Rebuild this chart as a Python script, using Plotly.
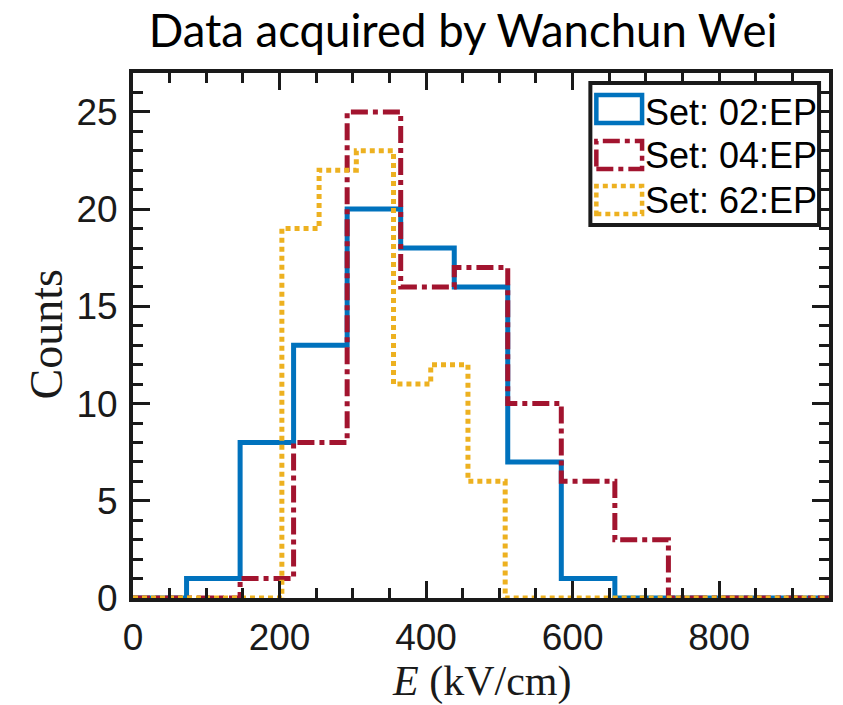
import plotly.graph_objects as go

# ---- data ----
edges_main = [0, 73.1, 146.2, 219.2, 292.3, 365.4, 438.5, 511.5, 584.6, 657.7, 730.8, 803.8, 876.9, 950]
counts_02 = [0, 1, 8, 13, 20, 18, 16, 7, 1, 0, 0, 0, 0]
counts_04 = [0, 0, 1, 8, 25, 16, 17, 10, 6, 3, 0, 0, 0]
edges_62 = [0, 50.8, 101.6, 152.4, 203.2, 254.0, 304.8, 355.6, 406.4, 457.2, 508.0,
            558.8, 609.6, 660.4, 711.2, 762.0, 812.8, 863.6, 914.4, 950]
counts_62 = [0, 0, 0, 0, 19, 22, 23, 11, 12, 6, 0, 0, 0, 0, 0, 0, 0, 0, 0]
labels = ["Set: 02:EP", "Set: 04:EP", "Set: 62:EP"]
x_ticks = [0, 200, 400, 600, 800]
y_ticks = [0, 5, 10, 15, 20, 25]

colors = ["#0072BD", "#A2142F", "#EDB120"]
dashes = ["solid", "17px,5px,5px,5px", "5px,4px"]


def stairs(edges, counts):
    return list(edges), list(counts) + [counts[-1]]


series = [(edges_main, counts_02), (edges_main, counts_04), (edges_62, counts_62)]

fig = go.Figure()
for (e, c), col, d, name in zip(series, colors, dashes, labels):
    xs, ys = stairs(e, c)
    fig.add_trace(go.Scatter(x=xs, y=ys, mode="lines", line_shape="hv",
                             line=dict(color=col, width=5, dash=d),
                             name=name, showlegend=False))

axis_common = dict(showline=True, linewidth=4, linecolor="#1a1a1a", mirror="allticks",
                   ticks="inside", tickwidth=3, tickcolor="#1a1a1a", ticklen=17,
                   showgrid=False, zeroline=False,
                   tickfont=dict(family="Liberation Sans, Arial", size=37, color="#1a1a1a"))

fig.update_xaxes(range=[0, 950], tickvals=x_ticks, ticklabelstandoff=4,
                 minor=dict(ticks="inside", ticklen=10, tickwidth=3, tickcolor="#1a1a1a", dtick=50, tick0=0),
                 **axis_common)
fig.update_yaxes(range=[0, 27], tickvals=y_ticks, ticklabelstandoff=4,
                 minor=dict(ticks="inside", ticklen=10, tickwidth=3, tickcolor="#1a1a1a", dtick=1, tick0=0),
                 **axis_common)

W, H = 843, 705
L, R, T, B = 133, 10, 73, 107
pw, ph = W - L - R, H - T - B


def px2p(x, y):
    return (x - L) / pw, (H - B - y) / ph


shapes = []
annotations = []
# legend box
x0, y0 = px2p(593, 83)
x1, y1 = px2p(823, 225)
shapes.append(dict(type="rect", xref="paper", yref="paper", x0=x0, y0=y1, x1=x1, y1=y0,
                   line=dict(color="#1a1a1a", width=4), fillcolor="white", layer="above"))
icon_rows = [(95, 123, 112), (141, 169, 155), (186, 214, 200)]
for (top, bot, mid), col, d, name in zip(icon_rows, colors, dashes, labels):
    ix0, iy0 = px2p(599, top)
    ix1, iy1 = px2p(645, bot)
    shapes.append(dict(type="rect", xref="paper", yref="paper", x0=ix0, y0=iy1, x1=ix1, y1=iy0,
                       line=dict(color=col, width=4.5, dash=d), layer="above"))
    tx, ty = px2p(646, mid)
    annotations.append(dict(xref="paper", yref="paper", x=tx, y=ty, xanchor="left", yanchor="middle",
                            text=name, showarrow=False,
                            font=dict(family="Liberation Sans, Arial", size=36, color="black")))

# axis titles
ax, ay = px2p(45, 335)
annotations.append(dict(xref="paper", yref="paper", x=ax, y=ay, text="Counts", textangle=-90,
                        showarrow=False, xanchor="center", yanchor="middle",
                        font=dict(family="Liberation Serif, serif", size=46, color="#1a1a1a")))
bx, by = px2p(484, 681)
annotations.append(dict(xref="paper", yref="paper", x=bx, y=by, text="<i>E</i> (kV/cm)",
                        showarrow=False, xanchor="center", yanchor="middle",
                        font=dict(family="Liberation Serif, serif", size=42, color="#1a1a1a")))

fig.update_layout(
    width=W, height=H,
    margin=dict(l=L, r=R, t=T, b=B),
    paper_bgcolor="white", plot_bgcolor="white",
    title=dict(text="Data acquired by Wanchun Wei", x=463 / W, xanchor="center",
               y=1 - 31 / H, yanchor="middle",
               font=dict(family="Lato, Open Sans, sans-serif", size=45.5, color="black")),
    shapes=shapes, annotations=annotations, showlegend=False,
)

fig.write_html("out.html")
